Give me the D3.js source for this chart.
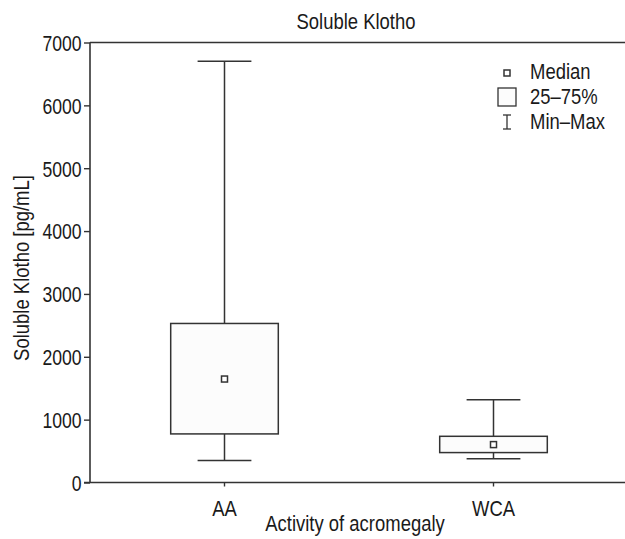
<!DOCTYPE html>
<html>
<head>
<meta charset="utf-8">
<script src="https://cdn.jsdelivr.net/npm/d3@7"></script>
<style>
  html, body { margin: 0; padding: 0; background: #fff; }
  svg { display: block; }
  text { font-family: "Liberation Sans", Arial, sans-serif; fill: #1a1a1a; }
</style>
</head>
<body>
<svg id="chart" width="625" height="539"></svg>
<script>
// ---- data ----
const categories = ["AA", "WCA"];
const minValues    = [349, 376];
const q1Values     = [773, 476];
const medianValues = [1646, 603];
const q3Values     = [2530, 735];
const maxValues    = [6700, 1317];
const yTicks = [0, 1000, 2000, 3000, 4000, 5000, 6000, 7000];
const legendLabels = ["Median", "25–75%", "Min–Max"];
const titleText = "Soluble Klotho";
const xLabel = "Activity of acromegaly";
const yLabel = "Soluble Klotho [pg/mL]";

// ---- layout ----
const W = 625, H = 539;
const mLeft = 90, mTop = 42.5, mBottom = 482.5, mRight = 628;
const stroke = "#333";
const fontSize = 22;
const sxTick = 0.8;   // horizontal condensation for digits
const sxText = 0.84;  // horizontal condensation for words

const svg = d3.select("#chart");

function narrowText(parent, x0, y0, str, anchor, rotate) {
  return parent.append("text")
    .attr("transform", `translate(${x0},${y0})` + (rotate ? ` rotate(${rotate})` : "") + ` scale(${sxText},1)`)
    .attr("text-anchor", anchor || "start")
    .attr("font-size", fontSize)
    .text(str);
}

const x = d3.scaleBand().domain(categories).range([mLeft, mRight]);
const y = d3.scaleLinear().domain([0, 7000]).range([mBottom, mTop]);

// top frame line
svg.append("line")
  .attr("x1", mLeft).attr("x2", W)
  .attr("y1", mTop).attr("y2", mTop)
  .attr("stroke", stroke).attr("stroke-width", 1.6);

// y axis
const yAxis = svg.append("g")
  .attr("transform", `translate(${mLeft},0)`)
  .call(d3.axisLeft(y).tickValues(yTicks).tickFormat(d3.format("d")).tickSize(6).tickPadding(2));
yAxis.select(".domain").attr("stroke", stroke).attr("stroke-width", 1.6).attr("d", `M0,${mTop}V${mBottom}`);
yAxis.selectAll(".tick line").attr("stroke", stroke).attr("stroke-width", 1.4);
yAxis.selectAll(".tick text")
  .attr("font-size", fontSize).attr("fill", "#1a1a1a")
  .style("font-family", "'Liberation Sans',Arial,sans-serif")
  .attr("x", -8.5 / sxTick).attr("dy", "0.36em")
  .attr("transform", `scale(${sxTick},1)`);

// x axis
const xAxis = svg.append("g")
  .attr("transform", `translate(0,${mBottom})`)
  .call(d3.axisBottom(x).tickSize(4).tickPadding(7));
xAxis.select(".domain").attr("stroke", stroke).attr("stroke-width", 1.6).attr("d", `M${mLeft - 6},0H${W}`);
xAxis.selectAll(".tick line").attr("stroke", stroke).attr("stroke-width", 1.4);
xAxis.selectAll(".tick text")
  .attr("font-size", fontSize).attr("fill", "#1a1a1a")
  .style("font-family", "'Liberation Sans',Arial,sans-serif")
  .attr("y", 34).attr("dy", 0)
  .attr("transform", `scale(${sxText},1)`);

// boxes
const data = categories.map((c, i) => ({
  c, min: minValues[i], q1: q1Values[i], med: medianValues[i], q3: q3Values[i], max: maxValues[i]
}));
const boxW = x.bandwidth() * 0.40;
const capW = x.bandwidth() * 0.20;
const g = svg.append("g");
data.forEach(d => {
  const cx = x(d.c) + x.bandwidth() / 2;
  g.append("line").attr("x1", cx).attr("x2", cx).attr("y1", y(d.max)).attr("y2", y(d.q3))
    .attr("stroke", stroke).attr("stroke-width", 1.5);
  g.append("line").attr("x1", cx).attr("x2", cx).attr("y1", y(d.q1)).attr("y2", y(d.min))
    .attr("stroke", stroke).attr("stroke-width", 1.5);
  g.append("line").attr("x1", cx - capW / 2).attr("x2", cx + capW / 2).attr("y1", y(d.max)).attr("y2", y(d.max))
    .attr("stroke", stroke).attr("stroke-width", 1.5);
  g.append("line").attr("x1", cx - capW / 2).attr("x2", cx + capW / 2).attr("y1", y(d.min)).attr("y2", y(d.min))
    .attr("stroke", stroke).attr("stroke-width", 1.5);
  g.append("rect").attr("x", cx - boxW / 2).attr("width", boxW)
    .attr("y", y(d.q3)).attr("height", y(d.q1) - y(d.q3))
    .attr("fill", "#fcfcfc").attr("stroke", stroke).attr("stroke-width", 1.5);
  g.append("rect").attr("x", cx - 3).attr("y", y(d.med) - 3).attr("width", 6).attr("height", 6)
    .attr("fill", "#fff").attr("stroke", stroke).attr("stroke-width", 1.5);
});

// title and axis labels
narrowText(svg, 356, 29, titleText, "middle");
narrowText(svg, 355, 531, xLabel, "middle");
narrowText(svg, 29, 268, yLabel, "middle", -90);

// legend
const leg = svg.append("g");
const legBase = [79, 104, 129];
const symX = 507;
leg.append("rect").attr("x", symX - 3).attr("y", legBase[0] - 9).attr("width", 6).attr("height", 6)
  .attr("fill", "#fff").attr("stroke", stroke).attr("stroke-width", 1.5);
leg.append("rect").attr("x", symX - 9).attr("y", legBase[1] - 16).attr("width", 18).attr("height", 18)
  .attr("fill", "#fcfcfc").attr("stroke", stroke).attr("stroke-width", 1.3);
leg.append("line").attr("x1", symX).attr("x2", symX).attr("y1", legBase[2] - 14).attr("y2", legBase[2])
  .attr("stroke", stroke).attr("stroke-width", 1.3);
leg.append("line").attr("x1", symX - 4).attr("x2", symX + 4).attr("y1", legBase[2] - 14).attr("y2", legBase[2] - 14)
  .attr("stroke", stroke).attr("stroke-width", 1.3);
leg.append("line").attr("x1", symX - 4).attr("x2", symX + 4).attr("y1", legBase[2]).attr("y2", legBase[2])
  .attr("stroke", stroke).attr("stroke-width", 1.3);
legendLabels.forEach((lbl, i) => narrowText(leg, 530, legBase[i], lbl, "start"));
</script>
</body>
</html>
